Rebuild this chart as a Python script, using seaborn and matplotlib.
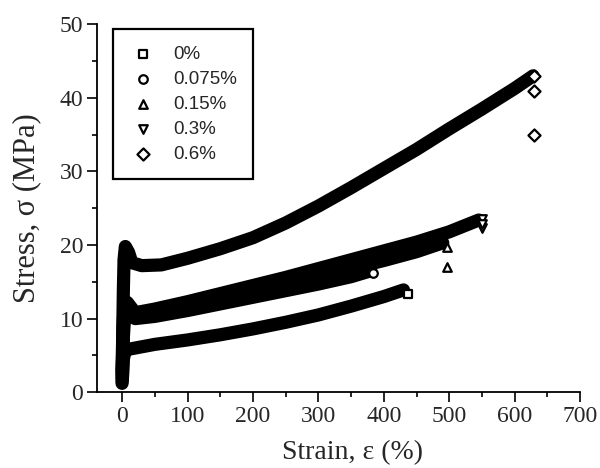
import numpy as np
import pandas as pd
import seaborn as sns
import matplotlib.pyplot as plt
from matplotlib.ticker import AutoMinorLocator, MultipleLocator

# strain (%) / stress (MPa), one pair of lists per content
labels = ['0%', '0.075%', '0.15%', '0.3%', '0.6%']
markers = ['s', 'o', '^', 'v', 'D']

strain_0 = [0, 1, 2, 4, 8, 20, 50, 100, 150, 200, 250, 300, 350, 400, 430]
stress_0 = [1.2, 2.5, 4.5, 5.4, 5.8, 6.0, 6.5, 7.1, 7.8, 8.6, 9.5, 10.5, 11.7, 13.0, 13.9]

strain_1 = [0, 1, 2, 4, 8, 20, 50, 100, 150, 200, 250, 300, 350, 380]
stress_1 = [1.5, 4.0, 7.5, 10.5, 11.0, 10.0, 10.3, 11.1, 12.0, 12.9, 13.8, 14.7, 15.7, 16.5]

strain_2 = [0, 1, 2, 4, 8, 20, 50, 100, 150, 200, 250, 300, 350, 400, 450, 490]
stress_2 = [2.0, 5.0, 9.0, 11.3, 11.5, 10.3, 10.8, 11.8, 12.8, 13.8, 14.8, 15.8, 16.8, 17.9, 19.1, 20.3]

strain_3 = [0, 1, 2, 4, 8, 20, 50, 100, 150, 200, 250, 300, 350, 400, 450, 500, 545]
stress_3 = [2.5, 6.0, 10.0, 12.0, 12.2, 10.8, 11.3, 12.3, 13.4, 14.5, 15.6, 16.8, 18.0, 19.2, 20.4, 21.8, 23.4]

strain_4 = [0, 1, 2, 3, 5, 10, 15, 30, 60, 100, 150, 200, 250, 300, 350, 400, 450, 500, 550, 600, 628]
stress_4 = [3.0, 8.0, 14.0, 18.0, 19.8, 19.0, 17.6, 17.2, 17.3, 18.2, 19.5, 21.0, 23.0, 25.3, 27.8, 30.4, 33.0, 35.8, 38.5, 41.3, 43.0]

# last recorded points (failure) drawn as open markers
end_strain = [[437], [384], [497, 497], [550, 550, 550], [630, 630, 630]]
end_stress = [[13.3], [16.2], [19.8, 17.0], [22.3, 23.5, 22.8], [43.0, 41.0, 35.0]]

strains = [strain_0, strain_1, strain_2, strain_3, strain_4]
stresses = [stress_0, stress_1, stress_2, stress_3, stress_4]

sns.set_style("ticks")
plt.rcParams['font.family'] = ['Liberation Serif', 'DejaVu Serif']

fig = plt.figure(figsize=(6, 4.68), dpi=100)
ax = fig.add_axes([0.162, 0.162, 0.805, 0.786])

for lab, m, sx, sy, ex, ey in zip(labels, markers, strains, stresses, end_strain, end_stress):
    df = pd.DataFrame({'strain': sx, 'stress': sy})
    sns.lineplot(data=df, x='strain', y='stress', color='black', linewidth=9.5,
                 sort=False, ax=ax, legend=False, solid_capstyle='round')
    de = pd.DataFrame({'strain': ex, 'stress': ey})
    sns.scatterplot(data=de, x='strain', y='stress', marker=m, s=38,
                    facecolor='white', edgecolor='black', linewidth=1.6,
                    ax=ax, label=lab, zorder=5)

ax.set_xlim(-38, 700)
ax.set_ylim(0, 50)
ax.xaxis.set_major_locator(MultipleLocator(100))
ax.yaxis.set_major_locator(MultipleLocator(10))
ax.xaxis.set_minor_locator(AutoMinorLocator(2))
ax.yaxis.set_minor_locator(AutoMinorLocator(2))
ax.tick_params(which='major', direction='out', length=7, width=1.2, labelsize=17,
               color='black', pad=3)
ax.tick_params(which='minor', direction='out', length=3.5, width=1.2, color='black')
for s in ['left', 'bottom']:
    ax.spines[s].set_linewidth(1.3)
    ax.spines[s].set_color('black')
sns.despine(ax=ax)

ax.set_xlabel('Strain, ε (%)', fontsize=20)
ax.set_ylabel('Stress, σ (MPa)', fontsize=22)
ax.xaxis.set_label_coords(0.528, -0.13)
ax.yaxis.set_label_coords(-0.115, 0.50)

leg = ax.legend(loc='upper left', bbox_to_anchor=(0.033, 0.987), borderaxespad=0,
                frameon=True, fancybox=False, edgecolor='black', framealpha=1,
                prop={'family': 'Liberation Sans', 'size': 13.5},
                labelspacing=0.42, borderpad=0.88, handletextpad=0.9,
                handlelength=1.4, markerscale=1.0)
leg.get_frame().set_linewidth(1.6)

fig.savefig('out.png', dpi=100)
